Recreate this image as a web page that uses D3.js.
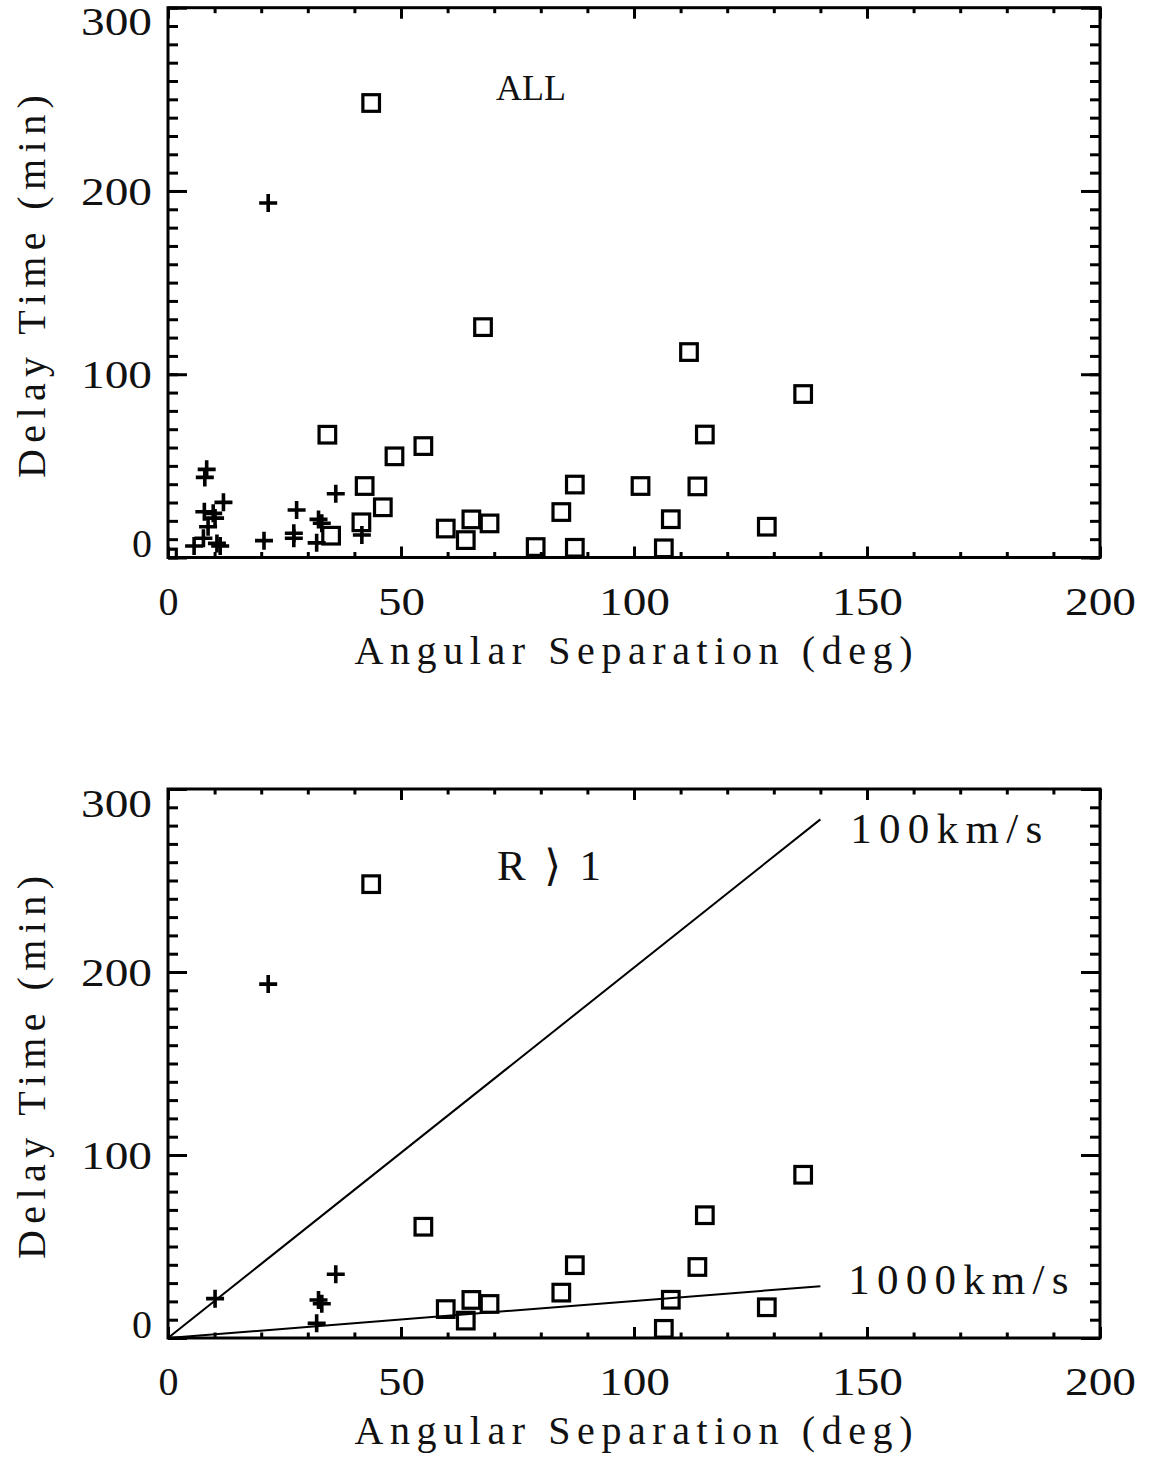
<!DOCTYPE html>
<html>
<head>
<meta charset="utf-8">
<script src="https://cdn.jsdelivr.net/npm/d3@7"></script>
<style>
  body { margin: 0; background: #fff; }
  text { font-family: "Liberation Serif", "DejaVu Serif", serif; fill: #111; }
</style>
</head>
<body>
<svg id="chart" width="1149" height="1458"></svg>
<script>
// square events: angular separation (deg), delay time (min), 1 = also in R > 1 panel
const sqSep   = [43.6, 67.6, 111.8, 136.3, 34.2, 115.2, 54.8, 48.6, 42.2, 87.3, 101.4, 113.6, 46.1,
                 84.4, 41.5, 35.0, 59.6, 65.1, 69.0, 63.9, 107.9, 128.5, 78.9, 87.3, 106.4, 0];
const sqDelay = [248, 125.7, 112.1, 89.2, 67.0, 67.1, 60.8, 55.2, 39.0, 39.8, 39.0, 38.8, 27.4,
                 24.8, 19.2, 11.9, 15.8, 20.8, 18.6, 9.5, 20.9, 16.8, 5.7, 5.3, 5.0, 0];
const sqR     = [1, 0, 0, 1, 0, 1, 1, 0, 0, 1, 0, 1, 0, 1, 0, 0, 1, 1, 1, 1, 1, 1, 0, 0, 1, 0];

// plus events
const plSep   = [21.5, 8.3, 7.9, 11.9, 7.8, 9.7, 10.1, 8.6, 7.6, 5.6, 10.5, 11.2, 20.6, 27.6, 27.0,
                 27.0, 32.3, 33.0, 31.9, 36.0, 41.6];
const plDelay = [193.4, 48.1, 43.7, 30.1, 25.0, 24.1, 21.5, 16.8, 10.5, 6.3, 7.7, 6.3, 9.2, 25.9, 13.2,
                 10.5, 20.8, 18.7, 8.0, 34.8, 12.3];
const plR     = [1, 0, 0, 0, 0, 0, 1, 0, 0, 0, 0, 0, 0, 0, 0, 0, 1, 1, 1, 1, 0];

// constant speed lines (bottom panel)
const lineSep    = [0, 140];
const line100    = [0, 283.4];
const line1000   = [0, 28.3];

const xTicks = [0, 50, 100, 150, 200];
const yTicks = [0, 100, 200, 300];
const xMinor = d3.range(0, 201, 10);
const yMinor = d3.range(0, 301, 10);

const svg = d3.select("#chart");
const left = 168, right = 1100;
const x = d3.scaleLinear().domain([0, 200]).range([left, right]);
const FS = 40;

const squares = sqSep.map((s, i) => ({ s, d: sqDelay[i], r: sqR[i] }));
const pluses  = plSep.map((s, i) => ({ s, d: plDelay[i], r: plR[i] }));

function fitLabel(sel) {
  sel.attr("dy", 0).attr("font-size", FS)
    .attr("font-family", "Liberation Serif, DejaVu Serif, serif")
    .attr("fill", "#111")
    .each(function (d) {
      const n = String(d).length;
      if (n > 1) d3.select(this).attr("textLength", n * 24 - 1).attr("lengthAdjust", "spacingAndGlyphs");
    });
}

function panel(id, y0, y1, onlyR, label, withLines) {
  const y = d3.scaleLinear().domain([0, 300]).range([y0, y1]);
  const g = svg.append("g");

  g.append("clipPath").attr("id", "clip" + id)
    .append("rect").attr("x", left).attr("y", y1).attr("width", right - left).attr("height", y0 - y1);

  const tickStyle = sel => sel.call(s => s.select(".domain").remove())
    .call(s => s.selectAll("line").attr("stroke-width", 3).attr("stroke", "#000"));

  // minor ticks
  g.append("g").attr("transform", `translate(0,${y0})`)
    .call(d3.axisBottom(x).tickValues(xMinor).tickSize(-5.5).tickFormat("")).call(tickStyle);
  g.append("g").attr("transform", `translate(0,${y1})`)
    .call(d3.axisTop(x).tickValues(xMinor).tickSize(-5.5).tickFormat("")).call(tickStyle);
  g.append("g").attr("transform", `translate(${left},0)`)
    .call(d3.axisLeft(y).tickValues(yMinor).tickSize(-10).tickFormat("")).call(tickStyle);
  g.append("g").attr("transform", `translate(${right},0)`)
    .call(d3.axisRight(y).tickValues(yMinor).tickSize(-10).tickFormat("")).call(tickStyle);

  // major ticks + labels
  const bx = g.append("g").attr("transform", `translate(0,${y0})`)
    .call(d3.axisBottom(x).tickValues(xTicks).tickSize(-11).tickPadding(57));
  bx.call(tickStyle);
  bx.selectAll("text").call(fitLabel);
  g.append("g").attr("transform", `translate(0,${y1})`)
    .call(d3.axisTop(x).tickValues(xTicks).tickSize(-11).tickFormat("")).call(tickStyle);

  const ly = g.append("g").attr("transform", `translate(${left},0)`)
    .call(d3.axisLeft(y).tickValues(yTicks).tickSize(-19).tickPadding(16));
  ly.call(tickStyle);
  ly.selectAll("text").call(fitLabel)
    .attr("y", d => d === 0 ? -1 : d === 300 ? 27 : 13.5);
  g.append("g").attr("transform", `translate(${right},0)`)
    .call(d3.axisRight(y).tickValues(yTicks).tickSize(-19).tickFormat("")).call(tickStyle);

  // frame
  g.append("rect").attr("x", left).attr("y", y1).attr("width", right - left).attr("height", y0 - y1)
    .attr("fill", "none").attr("stroke", "#000").attr("stroke-width", 3);

  // axis titles
  g.append("text").attr("x", (left + right) / 2 - 0.5).attr("y", y0 + 106)
    .attr("text-anchor", "middle").attr("font-size", FS)
    .attr("textLength", 558).attr("lengthAdjust", "spacing")
    .text("Angular Separation (deg)");
  g.append("text")
    .attr("transform", `translate(45,${(y0 + y1) / 2 + 4}) rotate(-90)`)
    .attr("text-anchor", "middle").attr("font-size", FS)
    .attr("textLength", 383).attr("lengthAdjust", "spacing")
    .text("Delay Time (min)");

  const plot = g.append("g").attr("clip-path", `url(#clip${id})`);

  if (withLines) {
    const line = d3.line().x(d => x(d[0])).y(d => y(d[1]));
    [line100, line1000].forEach(vals => {
      plot.append("path").datum(lineSep.map((s, i) => [s, vals[i]]))
        .attr("d", line).attr("fill", "none").attr("stroke", "#000").attr("stroke-width", 2);
    });
    g.append("text").attr("x", x(146.4)).attr("y", y(270.5)).attr("font-size", 43)
      .attr("textLength", 192).attr("lengthAdjust", "spacing").text("100km/s");
    g.append("text").attr("x", x(146)).attr("y", y(24)).attr("font-size", 43)
      .attr("textLength", 220).attr("lengthAdjust", "spacing").text("1000km/s");
  }

  const sq = onlyR ? squares.filter(p => p.r) : squares;
  const pl = onlyR ? pluses.filter(p => p.r) : pluses;

  plot.selectAll(".sq").data(sq).enter().append("rect").attr("class", "sq")
    .attr("x", d => x(d.s) - 8.3).attr("y", d => y(d.d) - 8.3)
    .attr("width", 16.6).attr("height", 16.6)
    .attr("fill", "none").attr("stroke", "#000").attr("stroke-width", 3.2);

  plot.selectAll(".pl").data(pl).enter().append("path").attr("class", "pl")
    .attr("transform", d => `translate(${x(d.s)},${y(d.d)})`)
    .attr("d", "M-9,0H9M0,-9V9")
    .attr("fill", "none").attr("stroke", "#000").attr("stroke-width", 3.6);

  const t = g.append("text").attr("x", label.x).attr("y", label.y).attr("font-size", label.fs).text(label.t);
  if (label.w) t.attr("textLength", label.w).attr("lengthAdjust", "spacing");
}

panel("a", 557.5, 7.7, false, { t: "ALL", x: 496, y: 100, fs: 36 }, false);
panel("b", 1338, 789, true, { t: "R \u27E9 1", x: 497, y: 880, w: 104, fs: 43 }, true);
</script>
</body>
</html>
